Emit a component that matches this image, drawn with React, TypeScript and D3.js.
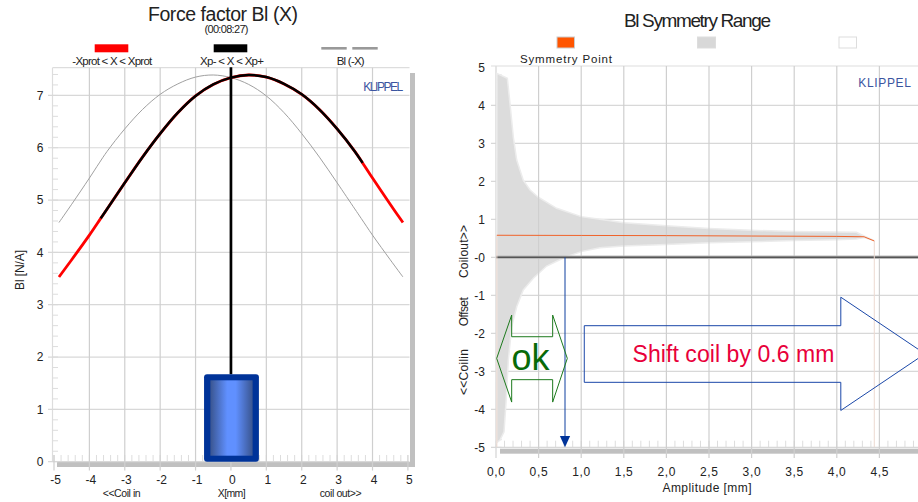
import React from "react";
import * as d3 from "d3";

const blX = [-4.86, -4.5, -4, -3.68, -3.5, -3, -2.5, -2, -1.5, -1, -0.5, 0, 0.5, 1, 1.5, 2, 2.5, 3, 3.5, 3.72, 4, 4.5, 4.86];
const blY = [3.53, 3.86, 4.33, 4.65, 4.83, 5.33, 5.82, 6.27, 6.67, 6.99, 7.21, 7.34, 7.39, 7.35, 7.22, 7.02, 6.73, 6.36, 5.93, 5.71, 5.42, 4.92, 4.57];
const xProtIn = [-3.68, 3.72];
const stemTop = 7.54;
const coilHalf = [-0.76, 0.79];
const coilHeight = 1.67;

const upAmp = [0.01, 0.133, 0.164, 0.203, 0.243, 0.32, 0.4, 0.496, 0.712, 1.0, 1.22, 1.5, 2, 2.5, 3, 3.5, 4, 4.23, 4.32, 4.44];
const upVal = [4.84, 4.71, 4.05, 3.17, 2.56, 2.03, 1.77, 1.58, 1.29, 1.07, 1.0, 0.91, 0.83, 0.76, 0.71, 0.68, 0.666, 0.66, 0.56, 0.44];
const lowAmp = [0.008, 0.047, 0.094, 0.117, 0.145, 0.184, 0.243, 0.32, 0.438, 0.595, 0.81, 1.0, 1.22, 1.5, 2, 2.5, 3, 3.5, 4, 4.23, 4.32, 4.44];
const lowVal = [-4.88, -4.81, -4.59, -3.84, -2.7, -1.83, -1.3, -0.86, -0.55, -0.23, 0, 0.15, 0.25, 0.3, 0.34, 0.385, 0.41, 0.44, 0.46, 0.48, 0.52, 0.44];
const symAmp = [0.01, 1, 2, 3, 4, 4.32, 4.44];
const symVal = [0.58, 0.575, 0.57, 0.56, 0.55, 0.54, 0.43];

const okArrow = [[0.008, -2.66], [0.184, -1.52], [0.184, -2.09], [0.665, -2.09], [0.665, -1.52], [0.837, -2.66], [0.665, -3.81], [0.665, -3.22], [0.184, -3.22], [0.184, -3.81]];
const shiftArrow = [[1.036, -1.8], [4.047, -1.8], [4.047, -1.05], [5.035, -2.54], [4.047, -4.03], [4.047, -3.29], [1.036, -3.29]];
const guideAmp = 0.81;

const xTicksL = [-5, -4, -3, -2, -1, 0, 1, 2, 3, 4, 5];
const yTicksL = [0, 1, 2, 3, 4, 5, 6, 7];
const xTicksR = [0, 0.5, 1, 1.5, 2, 2.5, 3, 3.5, 4, 4.5];
const yTicksR = [5, 4, 3, 2, 1, 0, -1, -2, -3, -4, -5];

const FONT = '"Liberation Sans", Arial, sans-serif';
const xL = d3.scaleLinear().domain([-5, 5]).range([54, 407.9]);
const yL = d3.scaleLinear().domain([0, 7]).range([461.7, 95.4]);
const xR = d3.scaleLinear().domain([0, 5]).range([496, 922]);
const yR = d3.scaleLinear().domain([-5, 5]).range([447.3, 67.3]);

const blLine = d3.line<[number, number]>().x((d) => xL(d[0])).y((d) => yL(d[1])).curve(d3.curveCatmullRom);
const blPts: [number, number][] = blX.map((x, i) => [x, blY[i]]);
const mirror: [number, number][] = blPts.map((d) => [-d[0], d[1]]);
const mid = blPts.filter((d) => d[0] >= xProtIn[0] && d[0] <= xProtIn[1]);

const band = d3.line<[number, number]>().x((d) => xR(d[0])).y((d) => yR(d[1]));
const upPts: [number, number][] = upAmp.map((a, i) => [a, upVal[i]]);
const lowPts: [number, number][] = lowAmp.map((a, i) => [a, lowVal[i]]);
const bandPath = band([...upPts, ...lowPts.slice().reverse()]) + "Z";
const symPts: [number, number][] = symAmp.map((a, i) => [a, symVal[i]]);
const poly = (pts: number[][]) => pts.map((p) => `${xR(p[0])},${yR(p[1])}`).join(" ");

function T({ x, y, w, s, fill = "#222", rot, anchor = "middle", children }: any) {
  return (
    <text x={x} y={y} fontSize={s} fill={fill} textAnchor={anchor} fontFamily={FONT}
      textLength={w} lengthAdjust={w ? "spacing" : undefined}
      transform={rot ? `rotate(${rot} ${x} ${y})` : undefined}>{children}</text>
  );
}

export default function App() {
  const minorYL = d3.range(0, 37.5).map((i) => i * 0.2);
  const minorXL = d3.range(0, 50).map((i) => -5 + i * 0.2);
  const minorYR = d3.range(0, 50).map((i) => -5 + i * 0.2);
  const minorXR = d3.range(0, 50).map((i) => i * 0.1);
  const coilL = xL(coilHalf[0]);
  const coilR = xL(coilHalf[1]);
  const coilTop = yL(coilHeight);
  const arrowHead = [[guideAmp - 0.06, -4.7], [guideAmp + 0.06, -4.7], [guideAmp, -5]];
  return (
    <svg width={918} height={502} style={{ position: "fixed", left: 0, top: 0, background: "#fff" }}>
      <defs>
        <linearGradient id="coil" x1="0" x2="1" y1="0" y2="0">
          <stop offset="0" stopColor="#3a5590" />
          <stop offset="0.4" stopColor="#6090ff" />
          <stop offset="0.6" stopColor="#6090ff" />
          <stop offset="1" stopColor="#3a5590" />
        </linearGradient>
      </defs>

      {/* LEFT PANEL */}
      <T x={223} y={20.5} s={19.5} w={150} fill="#222">Force factor Bl (X)</T>
      <T x={226.5} y={33.3} s={11} w={44}>(00:08:27)</T>
      <rect x={94.7} y={44.3} width={33.6} height={8} fill="#ff0000" />
      <rect x={213.7} y={44.3} width={33.6} height={8} fill="#000" />
      <rect x={321.3} y={47} width={25.4} height={2.6} fill="#999" />
      <rect x={352.3} y={47} width={25.4} height={2.6} fill="#999" />
      <T x={112.3} y={65} s={11.5} w={80}>-Xprot &lt; X &lt; Xprot</T>
      <T x={232} y={65} s={11.5} w={64}>Xp- &lt; X &lt; Xp+</T>
      <T x={350.7} y={65} s={11.5} w={28}>Bl (-X)</T>

      <rect x={410} y={73} width={5} height={394} fill="#c0c0c0" />
      <rect x={57} y={462} width={358} height={5} fill="#c0c0c0" />
      <line x1={52.5} x2={52.5} y1={67.7} y2={462} stroke="#ddd" strokeWidth={1.2} />
      <line x1={52.5} x2={409.5} y1={67.7} y2={67.7} stroke="#ddd" strokeWidth={1.2} />
      {minorYL.map((v) => <line key={v} x1={52.5} x2={58} y1={yL(v)} y2={yL(v)} stroke="#ddd" />)}
      {minorXL.map((v) => <line key={v} x1={xL(v)} x2={xL(v)} y1={455} y2={462} stroke="#ddd" />)}
      {yTicksL.map((v) => (
        <g key={v}>
          <line x1={48} x2={409.5} y1={yL(v)} y2={yL(v)} stroke="#d8d8d8" strokeWidth={1.2} />
          <T x={43.5} y={yL(v) + 4.3} s={12} anchor="end">{v}</T>
        </g>
      ))}
      {xTicksL.map((v) => (
        <g key={v}>
          <line x1={xL(v)} x2={xL(v)} y1={v === -5 || v === 5 ? 455 : 67.7} y2={470.5} stroke="#cfcfcf" strokeWidth={1.2} />
          <T x={xL(v) + 1.5} y={484} s={12}>{v}</T>
        </g>
      ))}
      <T x={121.7} y={496.7} s={10.5} w={38}>&lt;&lt;Coil in</T>
      <T x={231.7} y={496.7} s={10.5} w={28}>X[mm]</T>
      <T x={340.7} y={496.7} s={10.5} w={42}>coil out&gt;&gt;</T>
      <T x={24} y={270} s={12} w={40} rot={-90}>Bl [N/A]</T>
      <T x={383.3} y={90.7} s={12} w={40} fill="#3b55a0">KLIPPEL</T>

      <path d={blLine(mirror) ?? ""} fill="none" stroke="#a0a0a0" strokeWidth={1} />
      <path d={blLine(blPts) ?? ""} fill="none" stroke="#ff0000" strokeWidth={2.8} />
      <path d={blLine(mid) ?? ""} fill="none" stroke="#000" strokeWidth={2.5} />
      <line x1={xL(0)} x2={xL(0)} y1={yL(stemTop)} y2={coilTop} stroke="#000" strokeWidth={2.7} />
      <rect x={coilL} y={coilTop} width={coilR - coilL} height={yL(0) - coilTop} rx={3} fill="#003399" />
      <rect x={coilL + 6.3} y={coilTop + 6} width={coilR - coilL - 12.6} height={yL(0) - coilTop - 12} fill="url(#coil)" />

      {/* RIGHT PANEL */}
      <T x={697.5} y={27.3} s={19} w={147}>Bl Symmetry Range</T>
      <rect x={557} y={37} width={17.5} height={11} fill="#ff5500" stroke="#ccc" />
      <rect x={697.5} y={37} width={18} height={11} fill="#d8d8d8" stroke="#ddd" />
      <rect x={839} y={37} width={17.5} height={11} fill="#fff" stroke="#ddd" />
      <T x={566} y={63.3} s={11.5} w={92}>Symmetry Point</T>

      <rect x={500} y={448.7} width={418} height={5} fill="#c0c0c0" />
      {minorYR.map((v) => <line key={v} x1={496} x2={501.7} y1={yR(v)} y2={yR(v)} stroke="#ddd" />)}
      {minorXR.map((v) => <line key={v} x1={xR(v)} x2={xR(v)} y1={440.7} y2={447.3} stroke="#ddd" />)}
      <line x1={496} x2={496} y1={66} y2={458} stroke="#ddd" strokeWidth={1.5} />
      <line x1={491} x2={918} y1={66} y2={66} stroke="#ddd" strokeWidth={1.2} />
      {yTicksR.map((v) => (
        <g key={v}>
          {v !== 5 && <line x1={491} x2={918} y1={yR(v)} y2={yR(v)} stroke="#d8d8d8" strokeWidth={1.2} />}
          <T x={485} y={yR(v) + 4.3} s={12} anchor="end">{v === 0 ? "-0" : v}</T>
        </g>
      ))}
      <path d={bandPath} fill="#dcdcdc" stroke="#ececec" strokeWidth={1.5} />
      {xTicksR.map((v, i) => (
        <g key={v}>
          {i > 0 && <line x1={xR(v)} x2={xR(v)} y1={66} y2={458} stroke="#cfcfcf" strokeWidth={1.2} />}
          <T x={xR(v)} y={476} s={12} w={18}>{d3.format(".1f")(v).replace(".", ",")}</T>
        </g>
      ))}
      <T x={707} y={491.7} s={12} w={89}>Amplitude [mm]</T>
      <T x={468} y={251.5} s={12} w={53} rot={-90}>Coilout&gt;&gt;</T>
      <T x={468} y={311.7} s={12} w={29} rot={-90}>Offset</T>
      <T x={468} y={372} s={12} w={46} rot={-90}>&lt;&lt;Coilin</T>
      <T x={884.6} y={86.7} s={12} w={52.7} fill="#3b55a0">KLIPPEL</T>

      <line x1={496} x2={918} y1={yR(0)} y2={yR(0)} stroke="#bbb" strokeWidth={3.4} />
      <line x1={496} x2={918} y1={yR(0)} y2={yR(0)} stroke="#555" strokeWidth={1.6} />
      <line x1={xR(symAmp[6])} x2={xR(symAmp[6])} y1={yR(symVal[6])} y2={447} stroke="#ecd9d0" strokeWidth={1} />
      <line x1={xR(symAmp[0])} x2={xR(symAmp[0])} y1={yR(symVal[0])} y2={447} stroke="#ecd9d0" strokeWidth={1} />
      <path d={band(symPts) ?? ""} fill="none" stroke="#f0632a" strokeWidth={1} />

      <line x1={xR(guideAmp)} x2={xR(guideAmp)} y1={yR(0)} y2={yR(-4.8)} stroke="#0f3f9f" strokeWidth={1} />
      <polygon points={poly(arrowHead)} fill="#003399" />

      <polygon points={poly(okArrow)} fill="none" stroke="#1d7a1d" strokeWidth={1} />
      <T x={530.5} y={370} s={36} fill="#086a08">ok</T>
      <polygon points={poly(shiftArrow)} fill="none" stroke="#1a47a8" strokeWidth={1} />
      <T x={733.5} y={362} s={23} w={202} fill="#e8003a">Shift coil by 0.6 mm</T>
    </svg>
  );
}
